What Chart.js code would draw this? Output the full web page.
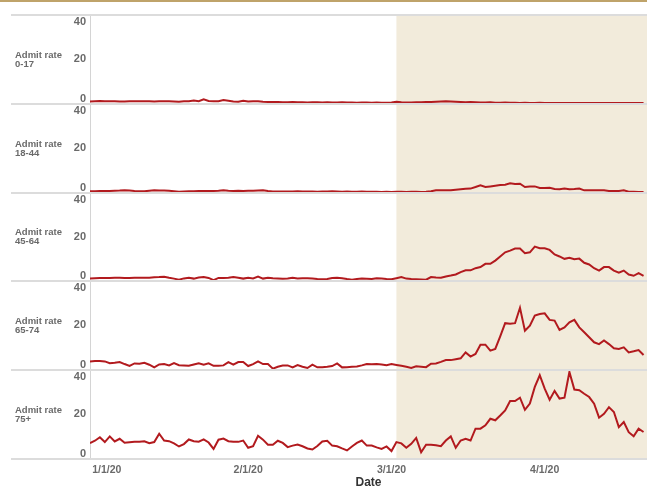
<!DOCTYPE html>
<html>
<head>
<meta charset="utf-8">
<script src="https://cdn.jsdelivr.net/npm/chart.js@4.4.1/dist/chart.umd.min.js"></script>
<style>
  body { margin: 0; width: 647px; height: 486px; overflow: hidden; background: #fff; }
  #topline { position: absolute; left: 0; top: 0; width: 647px; height: 2px; background: #bfa36a; }
  .panel { position: absolute; left: 0; width: 647px; }
</style>
</head>
<body>
<div id="topline"></div>
<div id="panels"></div>
<script>
// day 0 = 12/31/19 ... day 112 = 4/21/20
const days = Array.from({ length: 113 }, (_, i) => i);
const ageGroups = ['0-17', '18-44', '45-64', '65-74', '75+'];

const rate0_17 = [
  0.8, 1.0, 1.1, 0.9, 1.0, 0.9, 0.8, 0.8, 0.9, 0.9,
  0.9, 1.0, 0.9, 0.8, 0.9, 1.0, 0.9, 0.8, 0.7, 0.9,
  1.0, 1.3, 1.0, 1.8, 1.1, 1.0, 1.0, 1.5, 1.2, 0.8,
  0.7, 1.2, 0.8, 0.9, 1.0, 0.7, 0.6, 0.6, 0.6, 0.5,
  0.5, 0.6, 0.5, 0.5, 0.4, 0.5, 0.5, 0.4, 0.5, 0.4,
  0.4, 0.5, 0.4, 0.4, 0.3, 0.4, 0.4, 0.3, 0.4, 0.3,
  0.3, 0.4, 0.7, 0.5, 0.4, 0.4, 0.5, 0.5, 0.6, 0.6,
  0.7, 0.8, 0.9, 0.8, 0.7, 0.6, 0.5, 0.6, 0.5, 0.4,
  0.4, 0.5, 0.3, 0.3, 0.4, 0.3, 0.3, 0.2, 0.3, 0.2,
  0.2, 0.3, 0.2, 0.2, 0.2, 0.1, 0.2, 0.2, 0.1, 0.1,
  0.2, 0.1, 0.1, 0.2, 0.1, 0.1, 0.1, 0.1, 0.2, 0.1,
  0.1, 0.1, 0.1
];
const rate18_44 = [
  0.5, 0.5, 0.6, 0.6, 0.6, 0.7, 0.8, 1.0, 0.8, 0.6,
  0.5, 0.5, 0.7, 0.9, 0.8, 0.8, 0.7, 0.5, 0.3, 0.4,
  0.5, 0.5, 0.6, 0.6, 0.6, 0.6, 0.7, 0.9, 0.7, 0.6,
  0.7, 0.6, 0.7, 0.7, 0.8, 0.9, 0.6, 0.4, 0.4, 0.4,
  0.4, 0.4, 0.5, 0.4, 0.4, 0.4, 0.3, 0.4, 0.4, 0.5,
  0.4, 0.3, 0.4, 0.3, 0.3, 0.4, 0.3, 0.3, 0.3, 0.2,
  0.3, 0.2, 0.3, 0.3, 0.2, 0.3, 0.3, 0.2, 0.3, 0.5,
  0.9, 0.9, 0.9, 0.9, 1.2, 1.4, 1.6, 1.7, 2.4, 3.2,
  2.4, 2.7, 3.0, 3.3, 3.5, 4.1, 3.8, 3.9, 2.4, 2.7,
  2.7, 2.0, 2.0, 2.1, 1.5, 1.4, 1.7, 1.4, 1.5, 1.7,
  0.9, 0.9, 0.9, 0.9, 0.9, 0.6, 0.6, 0.6, 0.9, 0.3,
  0.3, 0.2, 0.2
];
const rate45_64 = [
  0.8, 1.0, 1.1, 1.1, 1.1, 1.2, 1.2, 1.1, 1.1, 1.2,
  1.2, 1.2, 1.2, 1.4, 1.5, 1.7, 1.2, 0.8, 0.3, 0.9,
  1.2, 0.8, 1.3, 1.5, 1.1, 0.1, 1.1, 1.1, 1.2, 1.5,
  1.2, 0.8, 1.2, 0.9, 1.7, 0.8, 1.2, 1.0, 0.9, 0.7,
  0.8, 1.2, 0.9, 1.0, 1.0, 0.8, 0.6, 0.5, 0.6, 1.1,
  1.2, 1.0, 0.6, 0.3, 0.6, 0.8, 0.7, 0.6, 1.0, 0.8,
  0.6, 0.5, 1.0, 1.5, 0.8, 0.6, 0.5, 0.4, 0.3, 1.5,
  1.3, 1.2, 1.8, 2.2, 2.7, 3.8, 4.6, 4.6, 5.6, 6.1,
  7.6, 7.6, 9.1, 11.0, 12.9, 13.7, 14.6, 14.6, 12.5, 12.9,
  15.5, 14.8, 14.8, 14.0, 11.9, 11.0, 9.9, 10.4, 9.7, 10.0,
  8.1, 7.3, 5.6, 4.5, 6.1, 6.1, 4.5, 3.5, 4.5, 2.7,
  2.1, 3.3, 2.1
];
const rate65_74 = [
  3.6, 3.8, 3.8, 3.6, 2.8, 3.0, 3.3, 2.4, 1.6, 2.7,
  2.6, 3.0, 2.1, 0.9, 2.2, 2.4, 1.8, 2.8, 1.9, 1.8,
  1.6, 2.2, 2.8, 2.1, 2.7, 1.6, 1.6, 1.8, 3.3, 2.1,
  3.3, 3.3, 1.5, 2.4, 3.6, 2.4, 2.4, 0.3, 1.2, 1.7,
  1.8, 0.9, 1.9, 1.2, 0.6, 2.1, 0.9, 1.0, 1.2, 1.5,
  2.7, 0.9, 1.0, 1.2, 1.3, 1.8, 2.4, 2.3, 2.4, 2.2,
  1.9, 2.4, 2.0, 1.6, 1.2, 0.6, 1.4, 1.2, 1.0, 2.6,
  2.7, 3.4, 4.2, 4.2, 4.6, 5.0, 7.7, 5.8, 7.0, 11.2,
  11.2, 8.5, 9.3, 15.0, 21.0, 20.7, 21.0, 28.0, 17.6, 19.9,
  24.5, 25.2, 25.5, 22.5, 22.2, 17.9, 19.1, 21.4, 22.5, 19.1,
  16.9, 14.6, 12.3, 11.5, 13.1, 11.5, 9.6, 9.3, 10.0, 7.7,
  8.2, 8.8, 6.5
];
const rate75plus = [
  6.9, 8.0, 9.6, 7.4, 10.0, 7.7, 8.9, 7.1, 7.3, 7.5,
  7.6, 7.8, 6.9, 7.4, 11.2, 8.1, 7.8, 6.8, 5.4, 6.5,
  8.6, 7.8, 7.6, 8.6, 7.2, 4.3, 8.5, 9.0, 7.8, 7.5,
  7.5, 8.1, 4.8, 5.5, 10.3, 8.5, 6.2, 6.2, 8.0, 7.0,
  5.1, 5.8, 6.3, 5.5, 4.5, 4.0, 5.6, 7.7, 8.0, 5.8,
  5.5, 4.5, 3.6, 5.4, 7.0, 8.1, 5.8, 5.8, 5.0, 4.3,
  5.4, 3.3, 7.4, 6.8, 4.8, 6.6, 9.3, 2.8, 6.2, 6.2,
  6.0, 5.5, 8.1, 10.0, 4.8, 8.1, 8.9, 8.1, 13.5, 13.5,
  15.0, 18.0, 17.3, 19.5, 21.8, 26.1, 26.1, 27.6, 22.1, 24.9,
  32.5, 37.8, 31.7, 26.7, 30.7, 27.2, 27.6, 39.3, 31.3, 31.0,
  29.4, 27.9, 24.9, 18.5, 20.3, 23.3, 21.1, 14.2, 16.5, 11.9,
  10.0, 13.5, 12.0
];
const rates = [rate0_17, rate18_44, rate45_64, rate65_74, rate75plus];

const xTickDays = [1, 32, 61, 92];
const xTickLabels = ['1/1/20', '2/1/20', '3/1/20', '4/1/20'];
const yTickValues = [0, 20, 40];
const shadeFromDay = 62;

const X_MIN = 0, X_MAX = 112.7;
const Y_MIN = -0.3, Y_MAX = 40.2;
const panelEdges = [15, 104, 193, 281, 370, 459];
const FONT = '"Liberation Sans", Arial, sans-serif';
const GREY = '#6a6a6a';

const panelDecor = {
  id: 'panelDecor',
  beforeDatasetsDraw(chart) {
    const { ctx, chartArea: a, scales: { x } } = chart;
    const x0 = x.getPixelForValue(shadeFromDay);
    ctx.save();
    ctx.fillStyle = '#f2ebdb';
    ctx.fillRect(x0, a.top, a.right - x0, a.bottom - a.top);
    ctx.restore();
  },
  afterDraw(chart, args, opts) {
    const { ctx, chartArea: a, scales: { y } } = chart;
    ctx.save();
    ctx.strokeStyle = '#dcdcdc';
    ctx.lineWidth = 2;
    ctx.beginPath();
    ctx.moveTo(11, a.top); ctx.lineTo(a.right, a.top);
    if (opts.last) { ctx.moveTo(11, a.bottom); ctx.lineTo(a.right, a.bottom); }
    ctx.stroke();
    // row header, centred on the 20 tick
    const cy = y.getPixelForValue(20);
    ctx.fillStyle = GREY;
    ctx.font = 'bold 9.5px ' + FONT;
    ctx.textAlign = 'left';
    ctx.textBaseline = 'middle';
    ctx.fillText('Admit rate', 15, cy - 4.5);
    ctx.fillText(opts.group, 15, cy + 4.8);
    ctx.restore();
  }
};

const holder = document.getElementById('panels');
ageGroups.forEach((group, k) => {
  const last = k === ageGroups.length - 1;
  const top = panelEdges[k] - 2;
  const height = last ? 486 - top : panelEdges[k + 1] - panelEdges[k] + 4;
  const div = document.createElement('div');
  div.className = 'panel';
  div.style.top = top + 'px';
  div.style.height = height + 'px';
  const canvas = document.createElement('canvas');
  div.appendChild(canvas);
  holder.appendChild(div);

  new Chart(canvas, {
    type: 'line',
    data: {
      labels: days,
      datasets: [{
        label: 'Admit rate ' + group,
        data: rates[k],
        borderColor: '#b21a1e',
        borderWidth: 2,
        pointRadius: 0,
        tension: 0
      }]
    },
    options: {
      responsive: true,
      maintainAspectRatio: false,
      animation: false,
      layout: { padding: { top: 2, bottom: last ? 0 : 2, left: 0, right: 0 } },
      plugins: {
        legend: { display: false },
        tooltip: { enabled: false },
        panelDecor: { group: group, last: last }
      },
      scales: {
        x: {
          type: 'linear',
          display: last,
          min: X_MIN,
          max: X_MAX,
          afterBuildTicks: s => {
            // Tableau keeps the first date label inside the pane
            s.ticks = xTickDays.map(v => ({ value: Math.max(v, X_MIN + 3.4) }));
          },
          afterFit: s => {
            s.height = last ? 486 - panelEdges[5] : 0;
            s.paddingLeft = 0;
            s.paddingRight = 0;
          },
          ticks: {
            callback: (v, i) => xTickLabels[i],
            color: GREY,
            font: { family: FONT, size: 10.5, weight: 'bold' },
            padding: 5,
            maxRotation: 0,
            autoSkip: false
          },
          grid: { display: false, drawTicks: false },
          border: { display: false },
          title: {
            display: true,
            text: 'Date',
            color: '#333',
            font: { family: FONT, size: 12, weight: 'bold' },
            padding: { top: 0, bottom: -4 }
          }
        },
        y: {
          type: 'linear',
          min: Y_MIN,
          max: Y_MAX,
          afterBuildTicks: s => {
            // end labels are nudged inside the pane
            s.ticks = yTickValues.map(v => ({ value: Math.min(Math.max(v, Y_MIN + 2.3), Y_MAX - 3.2) }));
          },
          afterFit: s => {
            s.width = 90;
            s.paddingTop = 0;
            s.paddingBottom = 0;
          },
          ticks: {
            callback: (v, i) => String(yTickValues[i]),
            color: GREY,
            font: { family: FONT, size: 11, weight: 'bold' },
            padding: 4
          },
          grid: { display: false, drawTicks: false },
          border: { display: true, color: '#d4d4d4', width: 1 }
        }
      }
    },
    plugins: [panelDecor]
  });
});
</script>
</body>
</html>
